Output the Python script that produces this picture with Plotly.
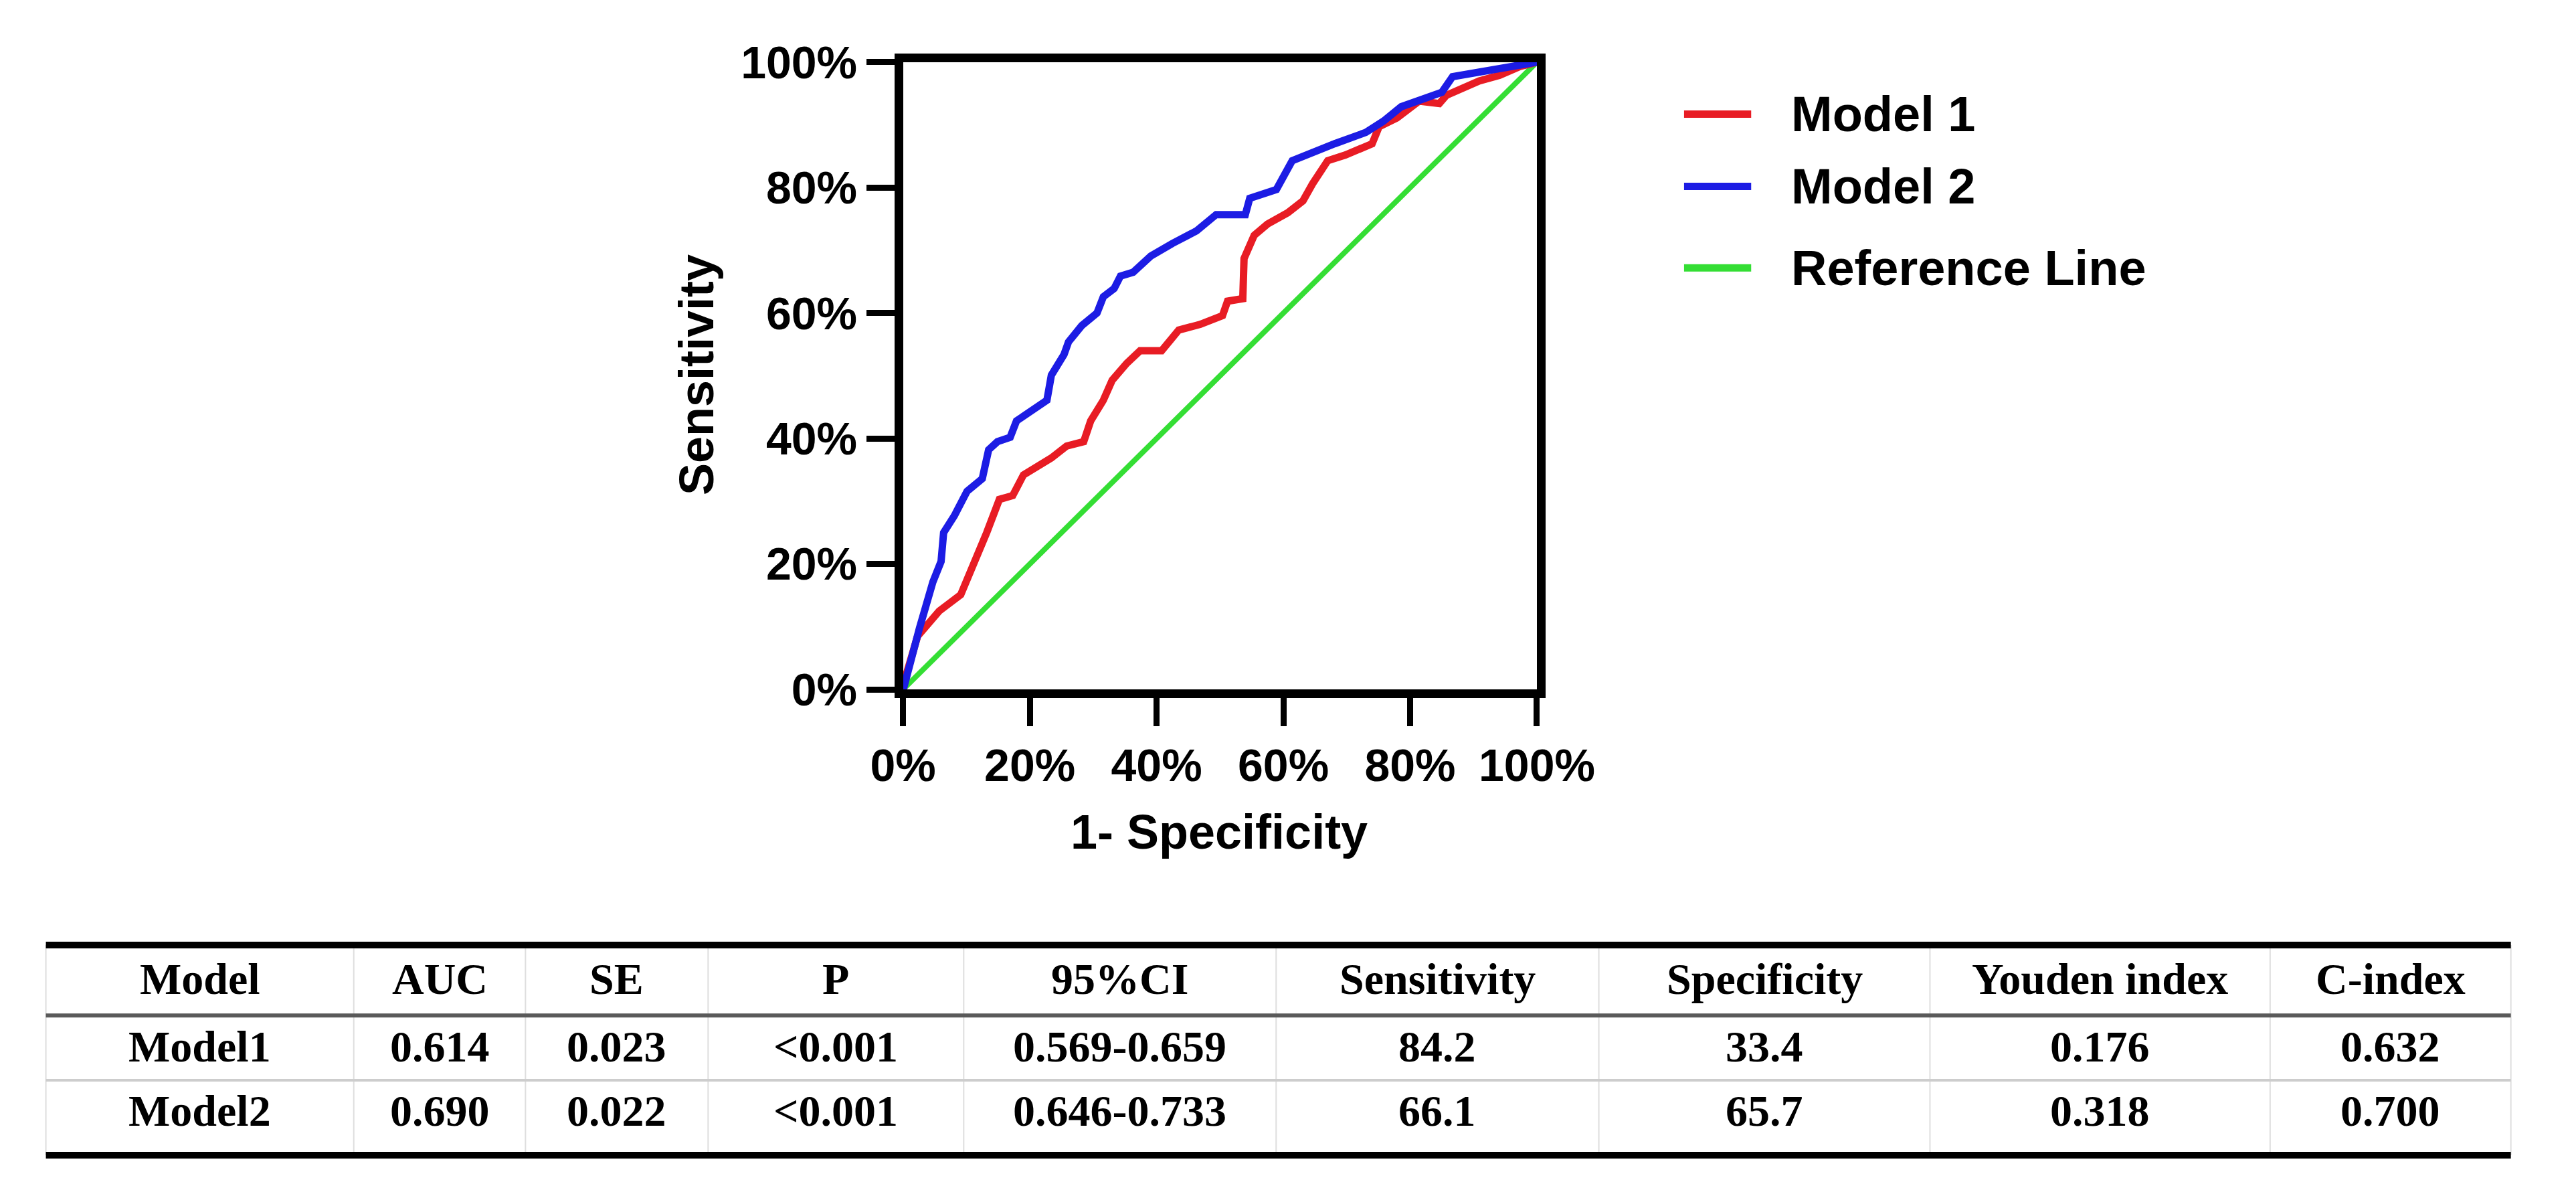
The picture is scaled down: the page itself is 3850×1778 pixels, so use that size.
import plotly.graph_objects as go

# ===========================
# DATA
# ===========================
# ROC curves, values in percent (1 - specificity, sensitivity)
model1_fpr = [0, 0.2, 2.3, 5.7, 9.1, 10.5, 12.2, 13.2, 15.2, 17.3, 19.0, 21.4, 23.4, 25.8,
              28.5, 29.6, 31.6, 33.0, 35.3, 37.4, 40.8, 43.5, 46.9, 50.4, 51.2, 53.6, 53.8,
              55.4, 57.5, 60.7, 63.1, 64.6, 67.0, 69.8, 74.0, 75.1, 77.9, 81.4, 84.6, 85.7,
              88.1, 90.9, 94.1, 97.3, 100]
model1_tpr = [0, 1.3, 8.5, 12.5, 15.1, 18.4, 22.3, 25.0, 30.3, 30.9, 34.2, 35.6, 36.9, 38.8,
              39.5, 42.8, 46.1, 49.3, 52.0, 54.0, 54.0, 57.3, 58.2, 59.6, 61.9, 62.3, 68.7,
              72.4, 74.2, 76.0, 77.9, 80.6, 84.3, 85.2, 87.0, 89.7, 91.1, 93.8, 93.4, 94.7,
              95.7, 97.0, 97.9, 99.3, 100]

model2_fpr = [0, 0.2, 2.6, 4.7, 6.0, 6.4, 8.1, 10.1, 12.5, 13.5, 14.9, 16.9, 17.9, 20.0,
              22.7, 23.4, 25.4, 26.1, 28.2, 30.6, 31.6, 33.3, 34.3, 36.3, 39.1, 42.5, 46.3,
              49.4, 54.0, 54.7, 58.9, 61.4, 64.5, 68.1, 73.0, 75.8, 78.6, 85.0, 86.7, 92.7,
              96.9, 100]
model2_tpr = [0, 0.6, 9.8, 17.1, 20.4, 25.0, 27.7, 31.6, 33.6, 38.2, 39.5, 40.2, 42.8, 44.1,
              46.1, 50.1, 53.4, 55.4, 58.0, 60.0, 62.6, 63.9, 65.9, 66.5, 69.1, 71.1, 73.1,
              75.7, 75.7, 78.3, 79.7, 84.3, 85.6, 87.0, 88.8, 90.6, 92.9, 95.2, 97.7, 98.8,
              99.6, 100]

ref_x = [0, 100]
ref_y = [0, 100]

tick_vals = [0, 20, 40, 60, 80, 100]

legend_names = ["Model 1", "Model 2", "Reference Line"]
line_colors = ["rgb(232,28,36)", "rgb(28,28,228)", "rgb(52,222,52)"]

# summary table
table_header = ["Model", "AUC", "SE", "P", "95%CI", "Sensitivity", "Specificity",
                "Youden index", "C-index"]
table_rows = [
    ["Model1", "0.614", "0.023", "<0.001", "0.569-0.659", "84.2", "33.4", "0.176", "0.632"],
    ["Model2", "0.690", "0.022", "<0.001", "0.646-0.733", "66.1", "65.7", "0.318", "0.700"],
]

# ===========================
# CANVAS GEOMETRY (pixels)
# ===========================
W, H = 3850, 1778
plot_l, plot_r, plot_t, plot_b = 1340, 2322, 49, 1028

col_edges = [12, 489, 755, 1038, 1434, 1918, 2418, 2931, 3458, 3831]
tbl_top, tbl_head, tbl_mid, tbl_bot = 1427, 1537, 1638, 1755
row_centers = [1480, 1585, 1686]


def px(x):
    return x / W


def py(y):
    return 1 - y / H


sans = "Liberation Sans, Arial, sans-serif"
serif = "Liberation Serif, Times New Roman, serif"

fig = go.Figure()

# ===========================
# CURVES
# ===========================
fig.add_trace(go.Scatter(x=ref_x, y=ref_y, mode="lines", name=legend_names[2],
                         line=dict(color=line_colors[2], width=8)))
fig.add_trace(go.Scatter(x=model1_fpr, y=model1_tpr, mode="lines", name=legend_names[0],
                         line=dict(color=line_colors[0], width=11)))
fig.add_trace(go.Scatter(x=model2_fpr, y=model2_tpr, mode="lines", name=legend_names[1],
                         line=dict(color=line_colors[1], width=11)))

axis_common = dict(
    range=[0, 100],
    tickvals=tick_vals,
    ticktext=[f"{v}%" for v in tick_vals],
    showgrid=False,
    zeroline=False,
    showline=True,
    mirror=True,
    linecolor="black",
    linewidth=13,
    ticks="outside",
    ticklen=42,
    tickwidth=9,
    tickcolor="black",
    tickfont=dict(family=sans, size=68, color="black", weight="bold"),
)

shapes = []
annotations = []

# ===========================
# LEGEND (drawn by hand to get the long swatches)
# ===========================
legend_rows = [130, 243, 370]
for name, color, yy in zip(legend_names, line_colors, legend_rows):
    shapes.append(dict(type="line", xref="paper", yref="paper",
                       x0=px(2550), x1=px(2654), y0=py(yy), y1=py(yy),
                       line=dict(color=color, width=11)))
    annotations.append(dict(text=name, xref="paper", yref="paper",
                            x=px(2714), y=py(yy), xanchor="left", yanchor="middle",
                            showarrow=False,
                            font=dict(family=sans, size=74, color="black", weight="bold")))

# axis titles
annotations.append(dict(text="Sensitivity", xref="paper", yref="paper",
                        x=px(1020), y=py(537), textangle=-90, showarrow=False,
                        xanchor="center", yanchor="middle",
                        font=dict(family=sans, size=72, color="black", weight="bold")))
annotations.append(dict(text="1- Specificity", xref="paper", yref="paper",
                        x=px(1830), y=py(1250), showarrow=False,
                        xanchor="center", yanchor="middle",
                        font=dict(family=sans, size=72, color="black", weight="bold")))

# ===========================
# TABLE
# ===========================
for x in col_edges:
    shapes.append(dict(type="line", xref="paper", yref="paper",
                       x0=px(x), x1=px(x), y0=py(tbl_top), y1=py(tbl_bot),
                       line=dict(color="rgb(222,222,222)", width=2)))

rules = [(tbl_top, "black", 10), (tbl_head, "rgb(90,90,90)", 6),
         (tbl_mid, "rgb(205,205,205)", 4), (tbl_bot, "black", 10)]
for yy, color, w in rules:
    shapes.append(dict(type="line", xref="paper", yref="paper",
                       x0=px(col_edges[0]), x1=px(col_edges[-1]), y0=py(yy), y1=py(yy),
                       line=dict(color=color, width=w)))

for r, cells in enumerate([table_header] + table_rows):
    for c, txt in enumerate(cells):
        xc = (col_edges[c] + col_edges[c + 1]) / 2
        annotations.append(dict(text=txt.replace("<", "&lt;"), xref="paper", yref="paper",
                                x=px(xc), y=py(row_centers[r]), showarrow=False,
                                xanchor="center", yanchor="middle",
                                font=dict(family=serif, size=66, color="black",
                                          weight="bold")))

# ===========================
# LAYOUT
# ===========================
fig.update_layout(
    width=W,
    height=H,
    autosize=False,
    margin=dict(l=0, r=0, t=0, b=0),
    paper_bgcolor="white",
    plot_bgcolor="white",
    showlegend=False,
    xaxis=dict(domain=[px(plot_l), px(plot_r)], **axis_common),
    yaxis=dict(domain=[py(plot_b), py(plot_t)], **axis_common),
    shapes=shapes,
    annotations=annotations,
)

fig.write_html("out.html")
